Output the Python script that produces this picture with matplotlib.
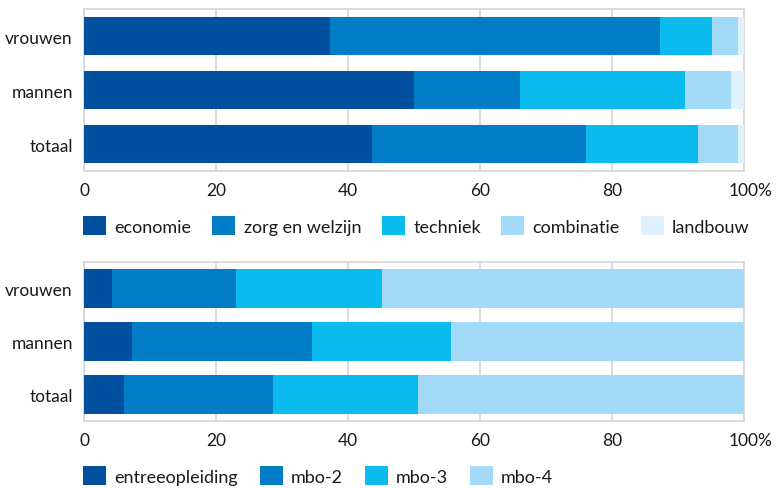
import matplotlib
matplotlib.use("Agg")
import matplotlib.pyplot as plt
import matplotlib.transforms as mtransforms
from matplotlib.patches import Patch

plt.rcParams['font.family'] = ['Lato', 'DejaVu Sans']

groups = ["totaal", "mannen", "vrouwen"]

# top chart: sector shares (%)
sectors = ["economie", "zorg en welzijn", "techniek", "combinatie", "landbouw"]
economie = [43.7, 50.0, 37.2]
zorg = [32.4, 16.1, 50.0]
techniek = [17.0, 25.0, 7.9]
combinatie = [6.0, 6.9, 4.0]
landbouw = [0.9, 2.0, 0.9]

# bottom chart: level shares (%)
levels = ["entreeopleiding", "mbo-2", "mbo-3", "mbo-4"]
entree = [6.1, 7.2, 4.2]
mbo2 = [22.6, 27.4, 18.9]
mbo3 = [21.9, 21.0, 22.1]
mbo4 = [49.4, 44.4, 54.8]

xticks = [0, 20, 40, 60, 80, 100]
xticklabels = ["0", "20", "40", "60", "80", "100%"]

colors = ["#00509F", "#027CC7", "#0BBBEE", "#A3DAF7", "#DFF1FD"]
grid_c = "#D6D6D6"
text_c = "#1a1a1a"

fig = plt.figure(figsize=(7.76, 4.89), dpi=100)
W, H = 776, 489


def make_axes(top_px, bottom_px):
    left, right = 84, 744
    return fig.add_axes([left / W, (H - bottom_px) / H, (right - left) / W, (bottom_px - top_px) / H])


def draw(ax, series, names, leg_y, colsp):
    lefts = [0] * len(groups)
    handles = []
    for vals, name, col in zip(series, names, colors):
        ax.barh(range(len(groups)), vals, left=lefts, height=0.72, color=col, zorder=3, linewidth=0)
        lefts = [a + b for a, b in zip(lefts, vals)]
        handles.append(Patch(facecolor=col, edgecolor='none', label=name))
    ax.set_xlim(0, 100)
    ax.set_ylim(-0.5, 2.5)
    ax.set_yticks(range(len(groups)))
    ax.set_yticklabels(groups, fontsize=12.5, color=text_c)
    ax.set_xticks(xticks)
    ax.set_xticklabels(xticklabels, fontsize=12.5, color=text_c)
    ax.tick_params(length=0)
    ax.tick_params(axis='x', pad=8)
    ax.tick_params(axis='y', pad=8)
    ax.grid(axis='x', color=grid_c, linewidth=1.2, zorder=0)
    for s in ax.spines.values():
        s.set_color(grid_c)
        s.set_linewidth(1.2)
    lab = ax.get_xticklabels()[-1]
    lab.set_transform(lab.get_transform() + mtransforms.ScaledTranslation(7 / 100, 0, fig.dpi_scale_trans))
    leg = ax.legend(handles=handles, loc='upper left', bbox_to_anchor=(-0.001, leg_y), ncol=len(names),
                    frameon=False, fontsize=13, handlelength=1.27, handleheight=1.27,
                    handletextpad=0.46, columnspacing=colsp, borderaxespad=0, borderpad=0)
    for t in leg.get_texts():
        t.set_color(text_c)


ax1 = make_axes(10, 172)
draw(ax1, [economie, zorg, techniek, combinatie, landbouw], sectors, -0.278, 1.15)
ax2 = make_axes(263, 422)
draw(ax2, [entree, mbo2, mbo3, mbo4], levels, -0.283, 1.2)

fig.savefig("out.png", dpi=100)
